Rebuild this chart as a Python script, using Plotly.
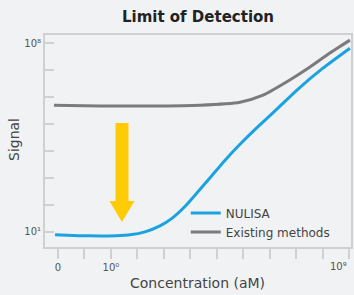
import plotly.graph_objects as go

# x positions in tick units (tick 0 = "0", tick 2 = 10^0, one decade per tick)
x_ticks = list(range(12))
x_ticktext = ["0", "", "10⁰", "", "", "", "", "", "", "", "", ""]
x_last_label = "10⁹"

# Signal values, stored as log10 exponents
nulisa_x = [-0.11, 0.8, 1.58, 2.2, 2.72, 3.28, 3.85, 4.3, 4.8, 5.25, 5.75, 6.3, 6.87, 7.6, 8.26, 9.02, 10.0, 11.02]
nulisa_log = [0.89, 0.86, 0.85, 0.86, 0.89, 1.0, 1.22, 1.5, 1.95, 2.45, 3.02, 3.65, 4.25, 4.95, 5.55, 6.26, 7.07, 7.81]

exist_x = [-0.15, 1.58, 3.47, 5.36, 6.87, 7.74, 8.75, 9.51, 10.26, 11.02]
exist_log = [5.70, 5.67, 5.67, 5.70, 5.81, 6.07, 6.63, 7.11, 7.63, 8.11]

y_tickexp = [1, 2, 3, 4, 5, 6, 7, 8]
y_ticktext = ["10¹", "", "", "", "", "", "", "10⁸"]

blue = "#1aa3e0"
gray = "#7b7b7b"
bg = "#f1f2f4"
frame = "#cfd0d2"
FONT = "DejaVu Sans"

fig = go.Figure()
fig.add_trace(go.Scatter(x=nulisa_x, y=[10 ** v for v in nulisa_log], mode="lines",
                         name="NULISA", line=dict(color=blue, width=3, shape="spline", smoothing=0.6)))
fig.add_trace(go.Scatter(x=exist_x, y=[10 ** v for v in exist_log], mode="lines",
                         name="Existing methods", line=dict(color=gray, width=3, shape="spline", smoothing=0.6)))

# Yellow arrow (paper coordinates)
ax_c, shaft_hw, head_hw = 0.2516, 0.0212, 0.041
y_top, y_head, y_tip = 0.585, 0.217, 0.118
path = (f"M {ax_c - shaft_hw} {y_top} L {ax_c + shaft_hw} {y_top} L {ax_c + shaft_hw} {y_head} "
        f"L {ax_c + head_hw} {y_head} L {ax_c} {y_tip} L {ax_c - head_hw} {y_head} "
        f"L {ax_c - shaft_hw} {y_head} Z")
fig.add_shape(type="path", path=path, xref="paper", yref="paper",
              fillcolor="#ffcb05", line=dict(width=0), layer="above")

fig.update_layout(
    width=354, height=295,
    margin=dict(l=45, r=3, t=35, b=48, autoexpand=False),
    paper_bgcolor=bg, plot_bgcolor=bg,
    font=dict(family=FONT, color="#444"),
    title=dict(text="<b>Limit of Detection</b>", x=0.5, xref="paper", y=1 - 17 / 295,
               yanchor="middle", xanchor="center", font=dict(size=15, color="#222", family=FONT)),
    showlegend=True,
    legend=dict(x=0.46, y=0.229, xanchor="left", yanchor="top", bgcolor="rgba(0,0,0,0)",
                font=dict(size=12, color="#444", family=FONT), tracegroupgap=0,
                itemwidth=30),
    xaxis=dict(range=[-0.49, 11.06], tickmode="array", tickvals=x_ticks, ticktext=x_ticktext,
               ticks="outside", ticklen=10, tickwidth=1.5, tickcolor=frame, automargin=False,
               showline=True, linecolor=frame, linewidth=2, mirror=True,
               showgrid=False, zeroline=False, tickfont=dict(size=10, color="#555")),
    yaxis=dict(type="log", range=[0.44, 8.30], tickmode="array", automargin=False,
               tickvals=[10 ** e for e in y_tickexp], ticktext=y_ticktext,
               ticks="inside", ticklen=9, tickwidth=1.5, tickcolor=frame,
               showline=True, linecolor=frame, linewidth=2, mirror=True,
               showgrid=False, zeroline=False, tickfont=dict(size=10, color="#555")),
    annotations=[
        dict(text="Signal", xref="paper", yref="paper", x=(14 - 45) / 306, y=(247 - 140) / 212,
             textangle=-90, showarrow=False, font=dict(size=14, color="#444", family=FONT),
             xanchor="center", yanchor="middle"),
        dict(text="Concentration (aM)", xref="paper", yref="paper", x=(197 - 45) / 306,
             y=(247 - 283) / 212, showarrow=False, font=dict(size=14, color="#444", family=FONT),
             xanchor="center", yanchor="middle"),
        dict(text=x_last_label, xref="x", yref="paper", x=x_ticks[-1], y=(247 - 266) / 212,
             showarrow=False, font=dict(size=10, color="#555", family=FONT),
             xanchor="right", yanchor="middle"),
    ],
)

fig.write_html("out.html", config={"displayModeBar": False},
               post_script="document.body.style.margin='0px';document.body.style.background='#f1f2f4';")
